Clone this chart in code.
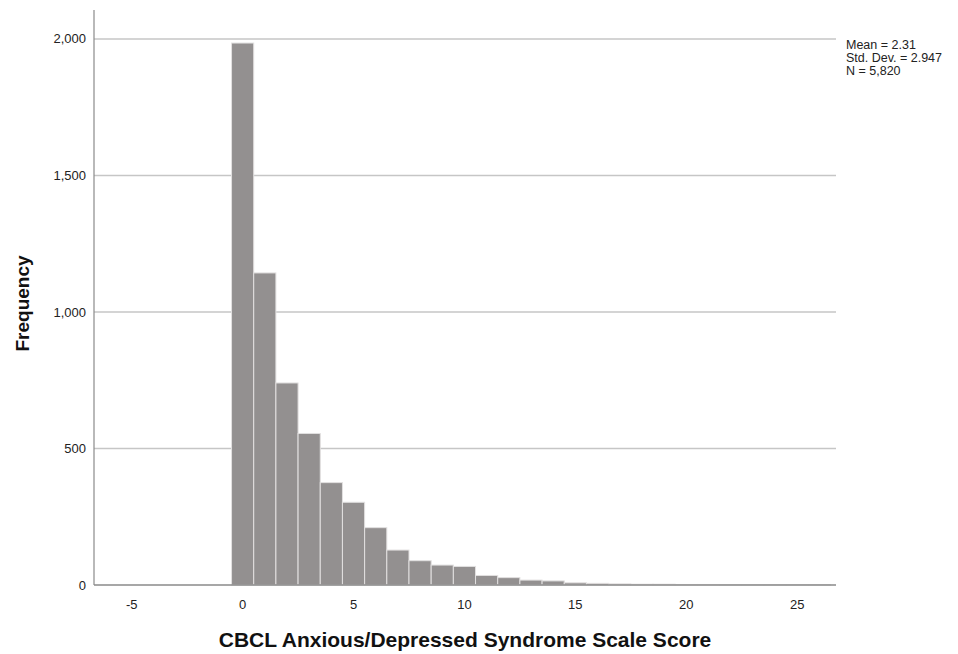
<!DOCTYPE html>
<html>
<head>
<meta charset="utf-8">
<script src="https://cdn.jsdelivr.net/npm/d3@7"></script>
<style>
  body { margin: 0; background: #fff; }
  text { font-family: "Liberation Sans", Arial, sans-serif; }
</style>
</head>
<body>
<div id="chart"></div>
<script>
// bin centres (score) and counts
const scores = [0, 1, 2, 3, 4, 5, 6, 7, 8, 9, 10, 11, 12, 13, 14, 15, 16, 17, 18, 19, 20, 21, 22, 23, 24, 25, 26];
const counts = [1985, 1143, 740, 555, 375, 303, 210, 128, 89, 73, 68, 35, 27, 18, 15, 8, 6, 4, 3, 3, 2, 2, 1, 1, 1, 1, 1];
const yTicks = [0, 500, 1000, 1500, 2000];
const xTicks = [-5, 0, 5, 10, 15, 20, 25];
const statsLines = ["Mean = 2.31", "Std. Dev. = 2.947", "N = 5,820"];

const width = 958,
  height = 654;
const margin = { top: 10, right: 122, bottom: 69, left: 94 };

const svg = d3
  .select("#chart")
  .append("svg")
  .attr("width", width)
  .attr("height", height);

const x = d3
  .scaleLinear()
  .domain([-6.7, 26.75])
  .range([margin.left, width - margin.right]);

const y = d3
  .scaleLinear()
  .domain([0, 2106])
  .range([height - margin.bottom, margin.top]);

// gridlines
svg
  .append("g")
  .selectAll("line")
  .data(yTicks.filter((d) => d > 0))
  .enter()
  .append("line")
  .attr("x1", margin.left)
  .attr("x2", width - margin.right)
  .attr("y1", (d) => y(d))
  .attr("y2", (d) => y(d))
  .attr("stroke", "#c6c6c6")
  .attr("stroke-width", 1.5);

// bars
svg
  .append("g")
  .selectAll("rect")
  .data(scores)
  .enter()
  .append("rect")
  .attr("x", (d) => x(d - 0.5))
  .attr("width", (d) => x(d + 0.5) - x(d - 0.5))
  .attr("y", (d, i) => y(counts[i]))
  .attr("height", (d, i) => y(0) - y(counts[i]))
  .attr("fill", "#939090")
  .attr("stroke", "#e2e0e0")
  .attr("stroke-width", 1);

// axes lines
svg
  .append("line")
  .attr("x1", margin.left)
  .attr("x2", margin.left)
  .attr("y1", margin.top)
  .attr("y2", y(0))
  .attr("stroke", "#8a8a8a")
  .attr("stroke-width", 1.2);

svg
  .append("line")
  .attr("x1", margin.left)
  .attr("x2", width - margin.right)
  .attr("y1", y(0))
  .attr("y2", y(0))
  .attr("stroke", "#8a8a8a")
  .attr("stroke-width", 1.5);

// tick labels
const fmt = d3.format(",");
svg
  .append("g")
  .selectAll("text")
  .data(yTicks)
  .enter()
  .append("text")
  .attr("x", margin.left - 8)
  .attr("y", (d) => y(d))
  .attr("dy", "0.35em")
  .attr("text-anchor", "end")
  .attr("font-size", 13)
  .attr("fill", "#222")
  .text(fmt);

svg
  .append("g")
  .selectAll("text")
  .data(xTicks)
  .enter()
  .append("text")
  .attr("x", (d) => x(d))
  .attr("y", y(0) + 24)
  .attr("text-anchor", "middle")
  .attr("font-size", 13)
  .attr("fill", "#222")
  .text((d) => d);

// axis titles
svg
  .append("text")
  .attr("transform", `translate(29,${(margin.top + y(0)) / 2 + 6}) rotate(-90)`)
  .attr("text-anchor", "middle")
  .attr("font-size", 19)
  .attr("font-weight", "bold")
  .attr("fill", "#111")
  .text("Frequency");

svg
  .append("text")
  .attr("x", 465)
  .attr("y", 647)
  .attr("text-anchor", "middle")
  .attr("font-size", 21)
  .attr("font-weight", "bold")
  .attr("fill", "#111")
  .text("CBCL Anxious/Depressed Syndrome Scale Score");

// stats box
svg
  .append("g")
  .selectAll("text")
  .data(statsLines)
  .enter()
  .append("text")
  .attr("x", 846)
  .attr("y", (d, i) => 49 + i * 13)
  .attr("font-size", 12.5)
  .attr("fill", "#222")
  .text((d) => d);
</script>
</body>
</html>
